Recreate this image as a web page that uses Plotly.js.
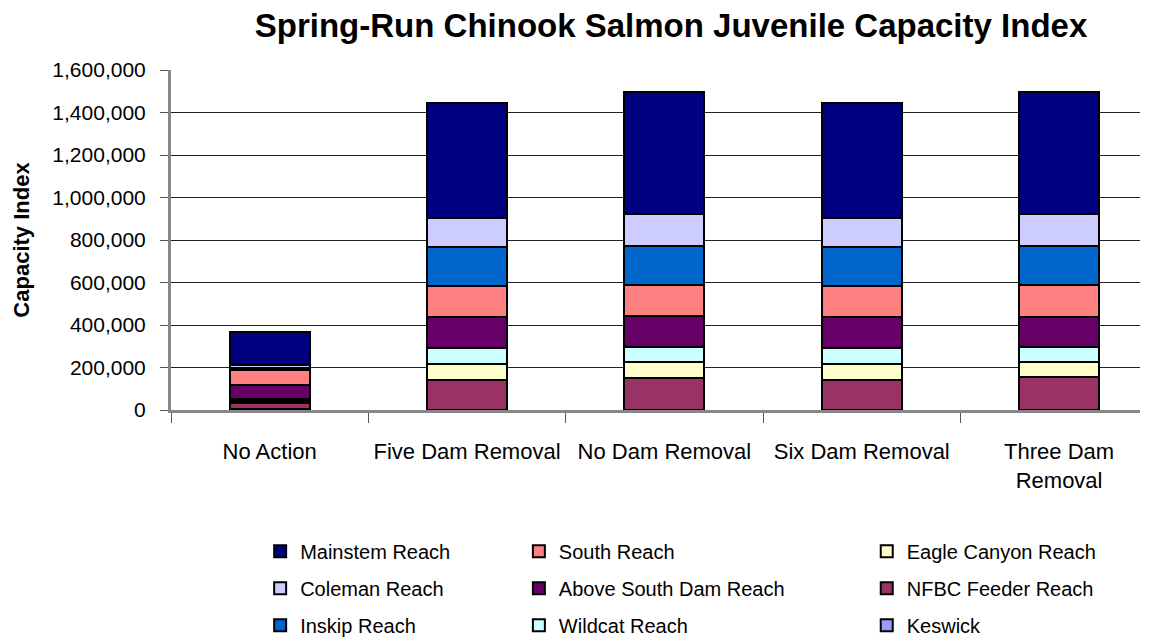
<!DOCTYPE html>
<html>
<head>
<meta charset="utf-8">
<script src="https://cdn.plot.ly/plotly-3.0.1.min.js"></script>
<style>html,body{margin:0;padding:0;background:#fff;}#chart{width:1150px;height:640px;}</style>
</head>
<body>
<div id="chart"></div>
<script>
const categories = ["No Action", "Five Dam Removal", "No Dam Removal", "Six Dam Removal", "Three Dam<br>Removal"];

const mainstem    = [156000, 541000, 576000, 541000, 577000];
const coleman     = [15000, 133000, 150000, 133000, 149000];
const inskip      = [8000, 184000, 184000, 184000, 184000];
const south       = [70000, 149000, 146000, 149000, 149000];
const aboveSouth  = [66000, 146000, 144000, 146000, 141000];
const wildcat     = [10000, 75000, 71000, 75000, 71000];
const eagleCanyon = [10000, 74000, 75000, 74000, 73000];
const nfbcFeeder  = [30000, 141000, 152000, 141000, 154000];
const keswick     = [3000, 0, 0, 0, 0];

const yTicks = [0, 200000, 400000, 600000, 800000, 1000000, 1200000, 1400000, 1600000];

// bottom-to-top stacking order
const series = [
  {name: "Keswick", y: keswick, color: "#9999FF", legend: "legend3", rank: 3},
  {name: "NFBC Feeder Reach", y: nfbcFeeder, color: "#993366", legend: "legend3", rank: 2},
  {name: "Eagle Canyon Reach", y: eagleCanyon, color: "#FFFFCC", legend: "legend3", rank: 1},
  {name: "Wildcat Reach", y: wildcat, color: "#CCFFFF", legend: "legend2", rank: 3},
  {name: "Above South Dam Reach", y: aboveSouth, color: "#660066", legend: "legend2", rank: 2},
  {name: "South Reach", y: south, color: "#FF8080", legend: "legend2", rank: 1},
  {name: "Inskip Reach", y: inskip, color: "#0066CC", legend: "legend", rank: 3},
  {name: "Coleman Reach", y: coleman, color: "#CCCCFF", legend: "legend", rank: 2},
  {name: "Mainstem Reach", y: mainstem, color: "#000080", legend: "legend", rank: 1}
];

const traces = series.map(s => ({
  type: "bar",
  x: categories,
  y: s.y,
  name: s.name,
  legend: s.legend,
  legendrank: s.rank,
  legendgroup: s.name,
  marker: {color: s.color, line: {color: "#000", width: 2}},
  hoverinfo: "name+y"
}));

const FONT = "Liberation Sans, Arial, sans-serif";
const legendBase = {
  orientation: "v",
  traceorder: "grouped",
  tracegroupgap: 8,
  font: {family: FONT, size: 20, color: "#000"},
  bgcolor: "rgba(0,0,0,0)",
  yanchor: "top",
  xanchor: "left",
  y: -0.358,
  itemwidth: 30
};

const layout = {
  width: 1150,
  height: 640,
  margin: {l: 171, r: 10, t: 70, b: 230, autoexpand: false},
  paper_bgcolor: "#fff",
  plot_bgcolor: "#fff",
  barmode: "stack",
  bargap: 0.595,
  title: {
    text: "<b>Spring-Run Chinook Salmon Juvenile Capacity Index</b>",
    font: {family: FONT, size: 33, color: "#000"},
    x: 0.5835, xanchor: "center", y: 0.96, yanchor: "middle"
  },
  xaxis: {
    type: "category",
    range: [-0.5, 4.41],
    tickson: "boundaries",
    ticks: "outside",
    ticklen: 10,
    tickcolor: "#555",
    showline: true,
    linecolor: "#888",
    linewidth: 3,
    showgrid: false,
    ticklabelstandoff: 20,
    tickfont: {family: FONT, size: 22, color: "#000"}
  },
  yaxis: {
    range: [0, 1600000],
    tickvals: yTicks,
    tickformat: ",d",
    ticks: "outside",
    ticklen: 8,
    tickcolor: "#555",
    showline: true,
    linecolor: "#888",
    linewidth: 3,
    showgrid: true,
    gridcolor: "#222",
    gridwidth: 1,
    zeroline: false,
    ticklabelstandoff: 10,
    tickfont: {family: FONT, size: 21, color: "#000"},
    title: {
      text: "<b>Capacity Index</b>",
      font: {family: FONT, size: 22, color: "#000"},
      standoff: 17
    }
  },
  legend: Object.assign({}, legendBase, {x: 0.092}),
  legend2: Object.assign({}, legendBase, {x: 0.359}),
  legend3: Object.assign({}, legendBase, {x: 0.718}),
  showlegend: true
};

Plotly.newPlot("chart", traces, layout, {displayModeBar: false, staticPlot: true});
</script>
</body>
</html>
